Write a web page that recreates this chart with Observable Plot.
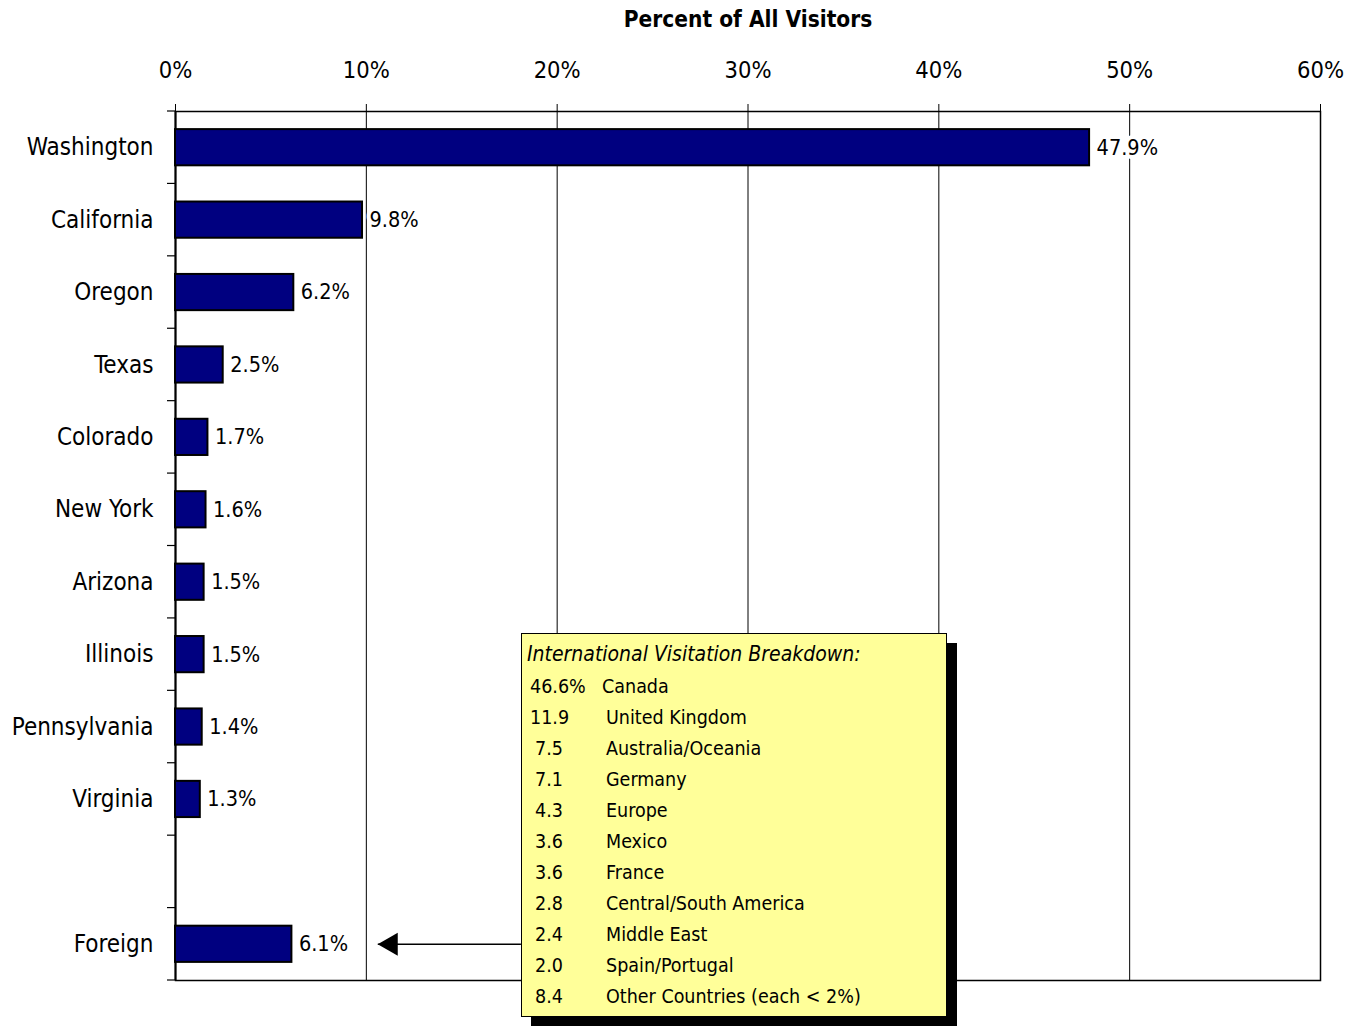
<!DOCTYPE html>
<html><head><meta charset="utf-8">
<script src="https://cdn.jsdelivr.net/npm/d3@7"></script>
<script src="https://cdn.jsdelivr.net/npm/@observablehq/plot@0.6"></script>
<style>
body{margin:0;background:#fff;}
#wrap{position:relative;width:1359px;height:1026px;font-family:"DejaVu Sans Condensed","Liberation Sans Narrow","Arial Narrow",sans-serif;color:#000;}
#inset{position:absolute;left:521px;top:633px;width:424px;height:382px;background:#ffff99;border:1.5px solid #000;box-shadow:10px 10px 0 #000;box-sizing:content-box;}
#inset .hdr{font-style:italic;font-size:21px;position:absolute;left:5px;top:5px;line-height:30px;white-space:nowrap;}
#inset .row{position:absolute;left:0;height:31px;line-height:31px;font-size:19.5px;white-space:nowrap;width:100%;}
#inset .num{position:absolute;left:8px;}
#inset .name{position:absolute;left:84px;}
</style></head><body><div id="wrap"><div id="chart"></div><div id="inset"></div></div>
<script>
// ---- data ----
const states = ["Washington","California","Oregon","Texas","Colorado","New York","Arizona","Illinois","Pennsylvania","Virginia"];
const stateValues = [47.9, 9.8, 6.2, 2.5, 1.7, 1.6, 1.5, 1.5, 1.4, 1.3];
const foreignLabel = "Foreign";
const foreignValue = 6.1;
const xTicks = [0, 10, 20, 30, 40, 50, 60];
const axisTitle = "Percent of All Visitors";
const intlTitle = "International Visitation Breakdown:";
const intlShares = [46.6, 11.9, 7.5, 7.1, 4.3, 3.6, 3.6, 2.8, 2.4, 2.0, 8.4];
const intlRegions = ["Canada","United Kingdom","Australia/Oceania","Germany","Europe","Mexico","France","Central/South America","Middle East","Spain/Portugal","Other Countries (each < 2%)"];
// arrow annotation (percent units on x axis)
const arrowNote = {name: "Foreign", from: 18.1, to: 10.6};

// ---- build ----
const gap = " ";
const yDomain = [...states, gap, foreignLabel];
const rows = states.map((s, i) => ({name: s, value: stateValues[i]}));
rows.push({name: foreignLabel, value: foreignValue});

const bandTicks = (index, scales, values, dims) => {
  const y = scales.y;
  const dom = y.domain();
  const bw = y.bandwidth ? y.bandwidth() : 0;
  const step = y.step ? y.step() : (dims.height - dims.marginTop - dims.marginBottom) / dom.length;
  const bounds = [y(dom[0]) + bw / 2 - step / 2, ...dom.map(d => y(d) + bw / 2 + step / 2)];
  const g = d3.create("svg:g");
  g.selectAll("line").data(bounds).join("line")
    .attr("x1", dims.marginLeft - 8).attr("x2", dims.marginLeft)
    .attr("y1", d => d).attr("y2", d => d)
    .attr("stroke", "#000").attr("stroke-width", 1.2);
  return g.node();
};

const chart = Plot.plot({
  width: 1359,
  height: 1026,
  marginLeft: 175,
  marginRight: 39,
  marginTop: 111,
  marginBottom: 46,
  style: {fontFamily: '"DejaVu Sans Condensed","Liberation Sans Narrow","Arial Narrow",sans-serif', background: "#fff", color: "#000"},
  x: {domain: [0, 60]},
  y: {domain: yDomain, paddingInner: 0.5, paddingOuter: 0.25, align: 0.5, round: false},
  marks: [
    Plot.gridX(xTicks, {stroke: "#000", strokeOpacity: 1, strokeWidth: 1}),
    Plot.frame({stroke: "#000", strokeWidth: 1.5}),
    Plot.ruleX([0], {stroke: "#000", strokeWidth: 2}),
    Plot.axisX({anchor: "top", ticks: xTicks, tickFormat: d => d + "%", tickSize: 8, tickPadding: 26, fontSize: 23.5, label: null}),
    Plot.axisY({tickSize: 0, tickPadding: 22, fontSize: 24, label: null}),
    bandTicks,
    Plot.barX(rows, {x: "value", y: "name", fill: "#000080", stroke: "#000", strokeWidth: 2}),
    Plot.text(rows, {x: "value", y: "name", text: d => d.value.toFixed(1) + "%", dx: 7, textAnchor: "start", fontSize: 21.5, stroke: "#fff", strokeWidth: 8, paintOrder: "stroke", fill: "#000"}),
    Plot.text([axisTitle], {frameAnchor: "top", dy: -100, fontSize: 22.5, fontWeight: "bold", text: d => d}),
    Plot.link([arrowNote], {x1: "from", x2: "to", y1: "name", y2: "name", stroke: "#000", strokeWidth: 1.5}),
    Plot.dot([arrowNote], {x: "to", y: "name", symbol: "triangle", rotate: -90, r: 8.6, dx: 13.3, fill: "#000", stroke: "none"})
  ]
});
document.getElementById("chart").appendChild(chart);

// ---- inset box ----
const inset = d3.select("#inset");
inset.append("div").attr("class", "hdr").text(intlTitle);
intlShares.forEach((v, i) => {
  const r = inset.append("div").attr("class", "row").style("top", (37 + i * 31) + "px");
  r.append("span").attr("class", "num")
    .style("left", (v >= 10 ? 8 : 13) + "px")
    .text(i === 0 ? v.toFixed(1) + "%" : v.toFixed(1));
  r.append("span").attr("class", "name").style("left", (i === 0 ? 80 : 84) + "px").text(intlRegions[i]);
});
</script>
</body></html>
